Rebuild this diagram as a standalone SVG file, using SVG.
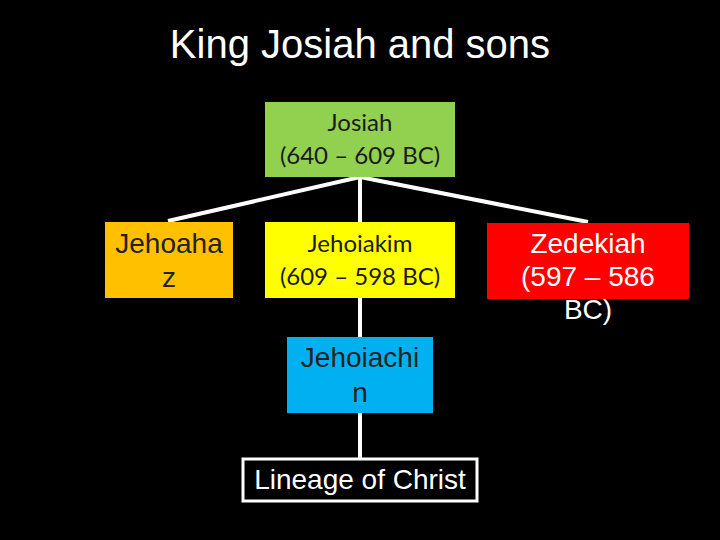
<svg xmlns="http://www.w3.org/2000/svg" width="720" height="540" viewBox="0 0 720 540">
<style>
.a{font-family:"Liberation Sans",Arial,sans-serif;font-size:28px;text-anchor:middle}
.c{font-family:Lato,"Open Sans",sans-serif;font-size:24px;text-anchor:middle;fill:#1a1a1a}
.ln{stroke:#fff;stroke-width:4;fill:none}
</style>
<rect width="720" height="540" fill="#000"/>
<text x="360" y="58" class="a" style="font-size:40px" fill="#fff">King Josiah and sons</text>
<g id="connectors">
<line class="ln" x1="360" y1="177" x2="168" y2="221"/>
<line class="ln" x1="360" y1="177" x2="360" y2="222"/>
<line class="ln" x1="360" y1="177" x2="588" y2="222"/>
<line class="ln" x1="360" y1="298" x2="360" y2="337"/>
<line class="ln" x1="360" y1="413" x2="360" y2="458"/>
</g>
<g id="josiah">
<rect x="265" y="102" width="190" height="75" fill="#92d050"/>
<text class="c" x="360" y="131">Josiah</text>
<text class="c" x="360" y="164">(640 – 609 BC)</text>
</g>
<g id="jehoahaz">
<rect x="105" y="222" width="128" height="76" fill="#ffc000"/>
<text class="a" x="169" y="253" fill="#222">Jehoaha</text>
<text class="a" x="169" y="287" fill="#222">z</text>
</g>
<g id="jehoiakim">
<rect x="265" y="222" width="190" height="76" fill="#ffff00"/>
<text class="c" x="360" y="252">Jehoiakim</text>
<text class="c" x="360" y="285">(609 – 598 BC)</text>
</g>
<g id="zedekiah">
<rect x="487" y="223" width="202" height="76" fill="#ff0000"/>
<text class="a" x="588" y="253" fill="#fff">Zedekiah</text>
<text class="a" x="588" y="286" fill="#fff">(597 – 586</text>
<text class="a" x="588" y="319" fill="#fff">BC)</text>
</g>
<g id="jehoiachin">
<rect x="287" y="337" width="146" height="76" fill="#00b0f0"/>
<text class="a" x="360" y="367" fill="#222">Jehoiachi</text>
<text class="a" x="360" y="402" fill="#222">n</text>
</g>
<g id="lineage">
<rect x="243" y="459" width="234" height="42" fill="#000" stroke="#fff" stroke-width="3"/>
<text class="a" x="360" y="489" fill="#fff">Lineage of Christ</text>
</g>
</svg>
